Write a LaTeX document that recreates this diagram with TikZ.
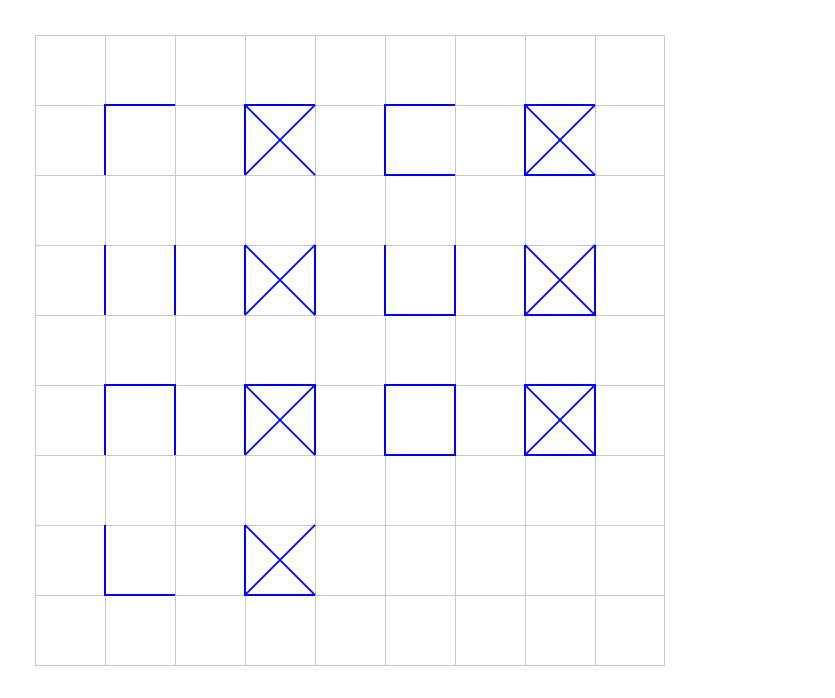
\documentclass[tikz,border=0pt]{standalone}
\begin{document}
\begin{tikzpicture}[x=1cm,y=-1cm,
  gridline/.style={draw={rgb,255:red,200;green,200;blue,200},line width=0.4pt},
  edge/.style={draw=blue,line width=0.8pt},
  diag/.style={draw=blue,line width=0.7pt}]
\useasboundingbox (0,0) rectangle (11.9286,9.9714);
\begin{scope}[shift={(0.5,0.5)}]
\draw[gridline] (0,0) grid (9,9);
\end{scope}
% row 1
\draw[edge] (1.5,2.5) -- (1.5,1.5) -- (2.5,1.5);
\draw[edge] (3.5,2.5) -- (3.5,1.5) -- (4.5,1.5);
\draw[diag] (3.5,1.5) -- (4.5,2.5) (3.5,2.5) -- (4.5,1.5);
\draw[edge] (6.5,1.5) -- (5.5,1.5) -- (5.5,2.5) -- (6.5,2.5);
\draw[edge] (8.5,1.5) -- (7.5,1.5) -- (7.5,2.5) -- (8.5,2.5);
\draw[diag] (7.5,1.5) -- (8.5,2.5) (7.5,2.5) -- (8.5,1.5);
% row 3
\draw[edge] (1.5,3.5) -- (1.5,4.5) (2.5,3.5) -- (2.5,4.5);
\draw[edge] (3.5,3.5) -- (3.5,4.5) (4.5,3.5) -- (4.5,4.5);
\draw[diag] (3.5,3.5) -- (4.5,4.5) (3.5,4.5) -- (4.5,3.5);
\draw[edge] (5.5,3.5) -- (5.5,4.5) -- (6.5,4.5) -- (6.5,3.5);
\draw[edge] (7.5,3.5) -- (7.5,4.5) -- (8.5,4.5) -- (8.5,3.5);
\draw[diag] (7.5,3.5) -- (8.5,4.5) (7.5,4.5) -- (8.5,3.5);
% row 5
\draw[edge] (1.5,6.5) -- (1.5,5.5) -- (2.5,5.5) -- (2.5,6.5);
\draw[edge] (3.5,6.5) -- (3.5,5.5) -- (4.5,5.5) -- (4.5,6.5);
\draw[diag] (3.5,5.5) -- (4.5,6.5) (3.5,6.5) -- (4.5,5.5);
\draw[edge] (5.5,5.5) rectangle (6.5,6.5);
\draw[edge] (7.5,5.5) rectangle (8.5,6.5);
\draw[diag] (7.5,5.5) -- (8.5,6.5) (7.5,6.5) -- (8.5,5.5);
% row 7
\draw[edge] (1.5,7.5) -- (1.5,8.5) -- (2.5,8.5);
\draw[edge] (3.5,7.5) -- (3.5,8.5) -- (4.5,8.5);
\draw[diag] (3.5,7.5) -- (4.5,8.5) (3.5,8.5) -- (4.5,7.5);
\end{tikzpicture}
\end{document}
